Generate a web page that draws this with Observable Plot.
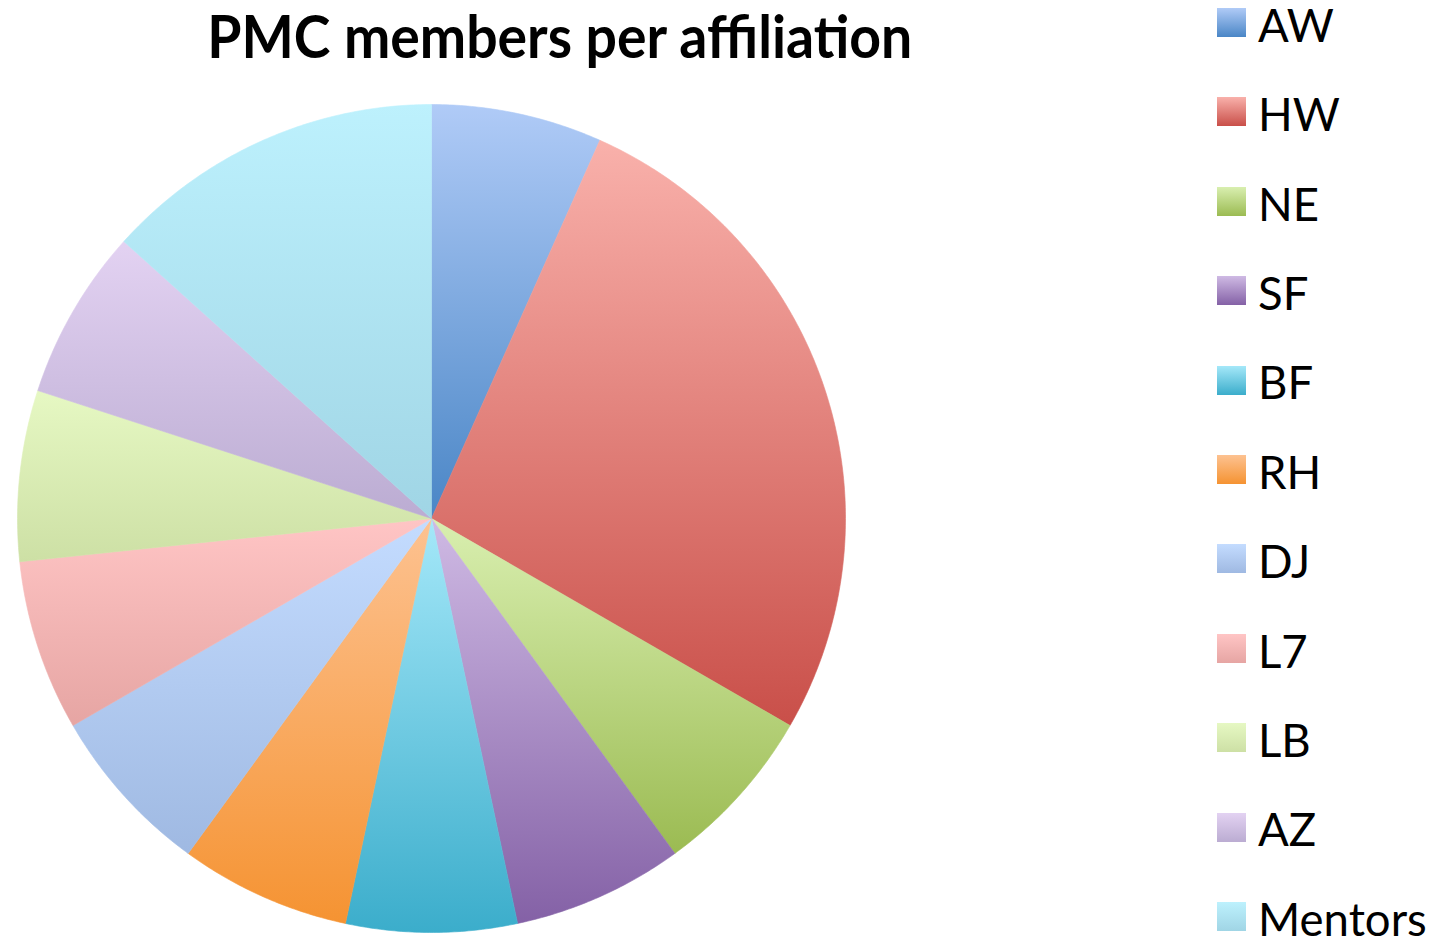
<!DOCTYPE html>
<html>
<head>
<meta charset="utf-8">
<script src="https://cdn.jsdelivr.net/npm/d3@7"></script>
<script src="https://cdn.jsdelivr.net/npm/@observablehq/plot@0.6"></script>
<style>
  html, body { margin: 0; padding: 0; background: #fff; }
  #wrap { position: relative; width: 1445px; height: 941px; overflow: hidden; font-family: Lato, "Open Sans", sans-serif; }
  #title { position: absolute; left: 0; top: 6px; width: 1120px; text-align: center; font-weight: 700; white-space: nowrap; }
  #title span { display: inline-block; transform-origin: 50% 50%; font-size: 59px; line-height: 1; }
  #chart { position: absolute; left: 0; top: 0; }
  #legend { position: absolute; left: 1217px; top: 0; }
  .item { position: absolute; left: 0; width: 228px; height: 30px; }
  .sw { position: absolute; left: 0; top: 0; width: 29px; height: 29px; }
  .lab { position: absolute; left: 41px; top: -3.25px; font-size: 45.5px; line-height: 40px; color: #000; white-space: nowrap; }
</style>
</head>
<body>
<div id="wrap">
  <div id="chart"></div>
  <div id="title"><span>PMC members per affiliation</span></div>
  <div id="legend"></div>
</div>
<script>
const labels = ["AW", "HW", "NE", "SF", "BF", "RH", "DJ", "L7", "LB", "AZ", "Mentors"];
const members = [1, 4, 1, 1, 1, 1, 1, 1, 1, 1, 2];
const lightColors = ["#b0cbf7", "#f9b1ab", "#d9efb0", "#cfbae4", "#a5e8f9", "#fdc291", "#c4dcff", "#ffc5c5", "#e6f8c3", "#e3d2f2", "#bdf1fd"];
const darkColors  = ["#4a86c6", "#c94f49", "#9bbb52", "#8461a6", "#3badcb", "#f59332", "#9fb9e2", "#e6a5a3", "#cde0a5", "#bbacd2", "#a0d5e5"];

const arcs = d3.pie().sort(null).value(d => d)(members);

// build polygon vertices for each slice from its pie angles
const slices = arcs.map((a, i) => {
  const pts = [{x: 0, y: 0}];
  const n = Math.max(8, Math.ceil((a.endAngle - a.startAngle) / (Math.PI / 360)));
  for (let k = 0; k <= n; k++) {
    const t = a.startAngle + (a.endAngle - a.startAngle) * k / n;
    pts.push({x: Math.sin(t), y: Math.cos(t)});
  }
  pts.push({x: 0, y: 0});
  return pts;
});

const plot = Plot.plot({
  width: 862,
  height: 941,
  marginLeft: 17,
  marginRight: 17,
  marginTop: 104,
  marginBottom: 9,
  x: {domain: [-1, 1], axis: null},
  y: {domain: [-1, 1], axis: null},
  marks: slices.map((pts, i) =>
    Plot.line(pts, {x: "x", y: "y", fill: `url(#grad${i})`, stroke: `url(#grad${i})`, strokeWidth: 0.6, curve: "linear"})
  )
});

// gradient definitions
const ns = "http://www.w3.org/2000/svg";
const defs = document.createElementNS(ns, "defs");
labels.forEach((l, i) => {
  const g = document.createElementNS(ns, "linearGradient");
  g.setAttribute("id", `grad${i}`);
  g.setAttribute("x1", "0"); g.setAttribute("y1", "0");
  g.setAttribute("x2", "0"); g.setAttribute("y2", "1");
  const s0 = document.createElementNS(ns, "stop");
  s0.setAttribute("offset", "0"); s0.setAttribute("stop-color", lightColors[i]);
  const s1 = document.createElementNS(ns, "stop");
  s1.setAttribute("offset", "1"); s1.setAttribute("stop-color", darkColors[i]);
  g.appendChild(s0); g.appendChild(s1);
  defs.appendChild(g);
});
plot.insertBefore(defs, plot.firstChild);
document.getElementById("chart").appendChild(plot);

// legend
const legend = document.getElementById("legend");
labels.forEach((l, i) => {
  const item = document.createElement("div");
  item.className = "item";
  item.style.top = (8 + 89.4 * i) + "px";
  const sw = document.createElement("div");
  sw.className = "sw";
  sw.style.background = `linear-gradient(to bottom, ${lightColors[i]}, ${darkColors[i]})`;
  const lab = document.createElement("div");
  lab.className = "lab";
  lab.textContent = l;
  item.appendChild(sw); item.appendChild(lab);
  legend.appendChild(item);
});

// fit title width to reference
const span = document.querySelector("#title span");
const w = span.getBoundingClientRect().width;
span.style.transform = `scaleX(${705 / w})`;
</script>
</body>
</html>
